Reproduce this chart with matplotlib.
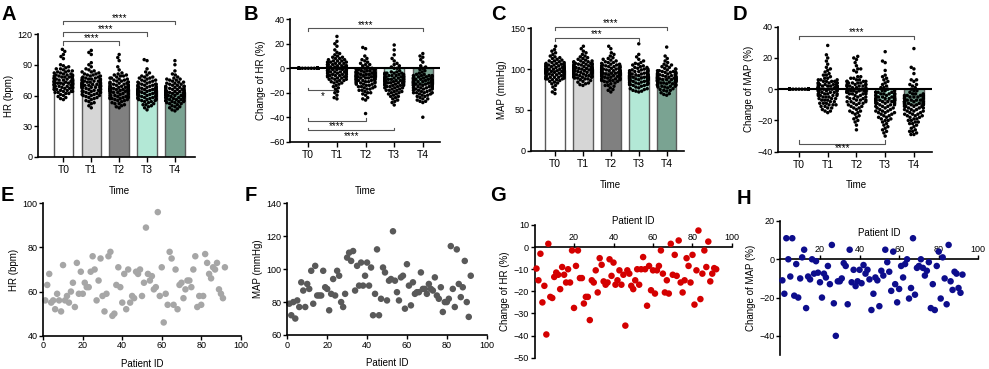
import warnings
import numpy as np
import matplotlib
matplotlib.use("Agg")
import matplotlib.pyplot as plt
import matplotlib.transforms as mtransforms
import seaborn as sns

warnings.filterwarnings("ignore")
plt.rcParams['font.family'] = ['Liberation Sans', 'DejaVu Sans']
plt.rcParams['font.size'] = 7

times = ["T0", "T1", "T2", "T3", "T4"]
bar_colors = ["#ffffff", "#d6d6d6", "#808080", "#b3e8d6", "#7aa392"]

# ---- swarm data (estimated per time point) ----
hr_t0 = [72, 68, 85, 76, 64, 105, 70, 74, 81, 62, 77, 69, 88, 73, 66, 79, 58, 71, 83, 75, 67, 90, 73,
         61, 78, 70, 86, 74, 65, 103, 72, 80, 68, 76, 57, 84, 71, 63, 79, 74, 69, 87, 72, 66, 82, 75,
         60, 77, 70, 98, 73, 64, 81, 68, 75, 71, 89, 62, 78, 73, 67, 84, 56, 76, 70, 80, 65, 74, 100,
         69, 83, 72, 63, 78, 71, 86, 67, 74, 79, 59, 73, 82, 68, 76, 64, 96, 71, 77, 66, 80, 72, 75]
hr_t1 = [70, 64, 82, 73, 58, 104, 68, 71, 78, 55, 74, 66, 85, 70, 61, 76, 52, 69, 80, 72, 63, 88, 70,
         57, 75, 67, 83, 71, 60, 102, 69, 77, 64, 73, 48, 81, 68, 59, 76, 71, 65, 84, 69, 62, 79, 72,
         56, 74, 67, 92, 70, 60, 78, 64, 72, 68, 86, 50, 75, 70, 63, 81, 53, 73, 66, 77, 61, 71, 100,
         66, 80, 69, 58, 75, 68, 83, 63, 71, 76, 54, 70, 79, 65, 73, 60, 90, 68, 74, 62, 77, 69, 72]
hr_t2 = [66, 60, 78, 69, 55, 100, 64, 67, 74, 52, 70, 62, 80, 66, 58, 72, 49, 65, 76, 68, 59, 82, 66,
         54, 71, 63, 79, 67, 57, 97, 65, 73, 60, 69, 48, 77, 64, 56, 72, 67, 61, 80, 65, 58, 75, 68,
         53, 70, 63, 94, 66, 57, 74, 60, 68, 64, 81, 50, 71, 66, 59, 77, 51, 69, 62, 73, 57, 67, 88,
         62, 76, 65, 55, 71, 64, 79, 59, 67, 72, 52, 66, 75, 61, 69, 56, 85, 64, 70, 58, 73, 65, 68]
hr_t3 = [64, 59, 76, 67, 54, 95, 62, 65, 72, 51, 68, 60, 78, 64, 57, 70, 48, 63, 74, 66, 58, 80, 64,
         53, 69, 61, 77, 65, 56, 94, 63, 71, 59, 67, 46, 75, 62, 55, 70, 65, 60, 78, 63, 57, 73, 66,
         52, 68, 61, 82, 64, 56, 72, 59, 66, 62, 79, 49, 69, 64, 58, 75, 50, 67, 61, 71, 56, 65, 86,
         60, 74, 63, 54, 69, 62, 77, 58, 65, 70, 51, 64, 73, 60, 67, 55, 83, 62, 68, 57, 71, 63, 66]
hr_t4 = [62, 57, 74, 65, 52, 94, 60, 63, 70, 49, 66, 58, 76, 62, 55, 68, 46, 61, 72, 64, 56, 78, 62,
         51, 67, 59, 75, 63, 54, 90, 61, 69, 57, 65, 45, 73, 60, 53, 68, 63, 58, 76, 61, 55, 71, 64,
         50, 66, 59, 80, 62, 54, 70, 57, 64, 60, 77, 47, 67, 62, 56, 73, 48, 65, 59, 69, 54, 63, 84,
         58, 72, 61, 52, 67, 60, 75, 56, 63, 68, 49, 62, 71, 58, 65, 53, 81, 60, 66, 55, 69, 61, 64]
hr_bars = [73, 70.4, 66.3, 64.9, 63.8]

dhr_t0 = [0] * 92
dhr_t1 = [-2, 5, -8, 1, -15, 26, -4, 3, -10, 8, -1, -6, 12, -3, 2, -12, 7, -5, 0, -20, 4, -7, 22,
          -9, 1, -3, 9, -14, 2, -6, 18, -2, -11, 6, -4, 0, -25, 3, -8, 10, -1, -17, 5, -5, 15, -3,
          4, -7, -1, 8, -13, 0, -22, 2, -4, 11, -9, -2, 6, -6, 1, -19, 3, -3, 7, -10, -1, 20, -5,
          2, -8, 5, -12, 0, -4, 9, -16, 1, -2, 4, -7, -24, 3, -5, 13, -1, -9, 6, -3, -11, 0, -6]
dhr_t2 = [-6, -2, -12, -5, -18, 17, -8, -3, -14, 2, -7, -10, 6, -4, -9, -16, 0, -11, -6, -22, -1, -13, 16,
          -15, -5, -8, 3, -20, -3, -11, 8, -7, -17, -2, -9, -6, -26, -4, -12, 4, -7, -19, -1, -10, -37, -5,
          -3, -13, -6, 1, -21, -8, -24, -4, -9, 5, -15, -7, -2, -11, -5, -18, -3, -8, 0, -14, -6, 10, -10,
          -4, -12, -1, -16, -7, -9, 3, -20, -5, -8, -2, -13, -25, -6, -10, 7, -4, -15, -1, -11, -17, -7, -9]
dhr_t3 = [-9, -5, -15, -8, -21, 19, -11, -6, -17, 1, -10, -13, 4, -7, -12, -19, -3, -14, -9, -25, -4, -16, 15,
          -18, -8, -11, 0, -23, -6, -14, 6, -10, -20, -5, -12, -9, -28, -7, -15, 2, -10, -22, -4, -13, -30, -8,
          -6, -16, -9, -2, -24, -11, -27, -7, -12, 3, -18, -10, -5, -14, -8, -21, -6, -11, -3, -17, -9, 8, -13,
          -7, -15, -4, -19, -10, -12, 0, -23, -8, -11, -5, -16, -26, -9, -13, 11, -7, -18, -4, -14, -20, -10, -12]
dhr_t4 = [-11, -7, -17, -10, -23, 12, -13, -8, -19, -1, -12, -15, 2, -9, -14, -21, -5, -16, -11, -27, -6, -18, 10,
          -20, -10, -13, -3, -25, -8, -16, 5, -12, -22, -7, -14, -11, -28, -9, -17, 0, -12, -24, -6, -15, -40, -10,
          -8, -18, -11, -4, -26, -13, -20, -9, -14, 1, -20, -12, -7, -16, -10, -23, -8, -13, -5, -19, -11, 7, -15,
          -9, -17, -6, -21, -12, -14, -2, -25, -10, -13, -7, -18, -27, -11, -15, 9, -9, -20, -6, -16, -22, -12, -14]
dhr_bars = [0, -1, -7.5, -10.5, -13]

map_t0 = [98, 92, 110, 101, 86, 128, 95, 99, 106, 83, 102, 94, 114, 97, 89, 104, 72, 96, 108, 100, 90, 118, 98,
          84, 103, 93, 112, 99, 88, 124, 96, 105, 91, 101, 70, 109, 95, 87, 104, 99, 93, 113, 97, 89, 107, 100,
          82, 102, 94, 120, 98, 87, 106, 92, 100, 96, 115, 78, 103, 98, 90, 110, 75, 101, 95, 105, 88, 99, 122,
          93, 108, 97, 85, 103, 96, 111, 91, 99, 104, 80, 98, 107, 94, 101, 88, 116, 96, 102, 90, 106, 97, 100]
map_t1 = [99, 94, 110, 102, 88, 128, 96, 100, 106, 86, 103, 95, 114, 98, 91, 105, 82, 97, 108, 101, 92, 118, 99,
          87, 104, 94, 112, 100, 90, 125, 97, 106, 93, 102, 80, 109, 96, 89, 105, 100, 94, 113, 98, 91, 107, 101,
          85, 103, 95, 120, 99, 89, 107, 93, 101, 97, 115, 83, 104, 99, 92, 110, 81, 102, 96, 106, 90, 100, 122,
          94, 109, 98, 88, 104, 97, 111, 92, 100, 105, 84, 99, 108, 95, 102, 90, 116, 97, 103, 91, 107, 98, 101]
map_t2 = [96, 90, 108, 99, 84, 128, 93, 97, 104, 80, 100, 92, 112, 95, 87, 102, 72, 94, 106, 98, 88, 116, 96,
          82, 101, 91, 110, 97, 86, 125, 94, 103, 89, 99, 75, 107, 93, 85, 102, 97, 91, 111, 95, 87, 105, 98,
          80, 100, 92, 118, 96, 85, 104, 90, 98, 94, 113, 77, 101, 96, 88, 108, 74, 99, 93, 103, 86, 97, 120,
          91, 106, 95, 83, 101, 94, 109, 89, 97, 102, 79, 96, 105, 92, 99, 86, 114, 94, 100, 88, 104, 95, 98]
map_t3 = [90, 85, 102, 93, 79, 131, 88, 91, 98, 76, 94, 87, 106, 89, 82, 96, 72, 88, 100, 92, 83, 110, 90,
          77, 95, 86, 104, 91, 81, 118, 89, 97, 84, 93, 73, 101, 88, 80, 96, 91, 86, 105, 89, 82, 99, 92,
          75, 94, 87, 112, 90, 80, 98, 85, 92, 88, 107, 74, 95, 90, 83, 102, 73, 93, 87, 97, 81, 91, 115,
          86, 100, 89, 78, 95, 88, 103, 84, 91, 96, 76, 90, 99, 86, 93, 81, 108, 88, 94, 83, 98, 89, 92]
map_t4 = [88, 83, 100, 91, 77, 127, 86, 89, 96, 74, 92, 85, 104, 87, 80, 94, 70, 86, 98, 90, 81, 108, 88,
          75, 93, 84, 102, 89, 79, 116, 87, 95, 82, 91, 68, 99, 86, 78, 94, 89, 84, 103, 87, 80, 97, 90,
          73, 92, 85, 110, 88, 78, 96, 83, 90, 86, 105, 71, 93, 88, 81, 100, 69, 91, 85, 95, 79, 89, 113,
          84, 98, 87, 76, 93, 86, 101, 82, 89, 94, 74, 88, 97, 84, 91, 79, 106, 86, 92, 81, 96, 87, 90]
map_bars = [98.9, 100, 96.9, 91.5, 88.7]

dmap_t0 = [0] * 92
dmap_t1 = [1, 5, -4, 2, -10, 28, -2, 4, -7, 9, 0, -3, 13, -1, 3, -9, 7, -5, 1, -15, 4, -6, 22,
           -8, 2, -1, 10, -12, 3, -4, 18, 0, -9, 6, -2, 1, -14, 4, -6, 11, 0, -11, 5, -3, 16, -1,
           5, -5, 1, 8, -10, 2, -13, 3, -2, 12, -7, 0, 6, -4, 2, -12, 4, -1, 7, -8, 1, 20, -3,
           3, -6, 5, -9, 1, -2, 9, -11, 2, 0, 4, -5, -14, 3, -3, 14, 1, -7, 6, -1, -10, 2, -4]
dmap_t2 = [-1, 4, -7, 1, -14, 21, -3, 3, -10, 8, -2, -5, 13, -1, 2, -12, 6, -8, 0, -19, 3, -9, 19,
           -11, 0, -4, 7, -16, 2, -6, 17, -2, -13, 5, -3, 0, -26, 4, -9, 12, -1, -18, 5, -5, 15, -2,
           4, -8, -1, 6, -15, 0, -21, 2, -4, 11, -10, -2, 5, -7, 1, -17, 3, -3, 7, -12, -1, 20, -6,
           2, -9, 4, -14, 0, -5, 8, -20, 1, -2, 3, -8, -23, 2, -6, 13, -1, -11, 5, -3, -15, 0, -7]
dmap_t3 = [-7, -2, -13, -5, -20, 24, -9, -3, -16, 4, -8, -11, 7, -6, -4, -18, 1, -14, -7, -25, -1, -15, 18,
           -17, -6, -10, 2, -22, -4, -12, 12, -8, -19, -1, -9, -5, -30, -3, -15, 6, -7, -24, -2, -11, 17, -8,
           -3, -14, -7, 0, -21, -6, -27, -4, -10, 5, -16, -8, -2, -13, -5, -23, -3, -9, 1, -18, -7, 9, -12,
           -4, -15, -2, -20, -6, -11, 3, -26, -5, -8, -3, -14, -28, -6, -12, 8, -7, -17, -1, -10, -19, -6, -9]
dmap_t4 = [-9, -4, -15, -7, -22, 26, -11, -5, -18, 2, -10, -13, 5, -8, -6, -20, -1, -16, -9, -27, -3, -17, 14,
           -19, -8, -12, 0, -24, -6, -14, 10, -10, -21, -3, -11, -7, -29, -5, -17, 3, -9, -26, -4, -13, 13, -10,
           -5, -16, -9, -2, -23, -8, -28, -6, -12, 3, -18, -10, -4, -15, -7, -25, -5, -11, -1, -20, -9, 6, -14,
           -6, -17, -4, -22, -8, -13, 1, -27, -7, -10, -5, -16, -29, -8, -14, 6, -9, -19, -3, -12, -21, -8, -11]
dmap_bars = [0, 1, -1, -7, -9.6]

# ---- per patient scatter data (E-H) ----
patient_id = list(range(1, 93))
hr_patient = [56, 63, 68, 55, 56, 52, 59, 56, 51, 72, 56, 58, 55, 60, 64, 53, 73, 59, 69, 59, 64, 62, 62,
              69, 76, 70, 56, 65, 75, 58, 51, 59, 76, 78, 49, 50, 63, 71, 62, 55, 68, 52, 70, 55, 58, 57,
              69, 68, 70, 58, 64, 89, 68, 65, 67, 61, 62, 96, 58, 71, 46, 59, 54, 78, 75, 54, 70, 52, 63,
              64, 57, 61, 65, 65, 62, 70, 76, 53, 58, 54, 58, 77, 73, 68, 66, 71, 70, 73, 61, 59, 57, 71]
map_patient = [79, 72, 80, 70, 81, 77, 92, 87, 77, 91, 88, 99, 79, 102, 84, 84, 84, 99, 89, 88, 75, 85, 94,
               84, 99, 96, 80, 77, 85, 107, 110, 105, 111, 87, 102, 90, 104, 90, 96, 104, 90, 101, 72, 85, 112, 72,
               82, 101, 98, 81, 93, 94, 123, 93, 86, 81, 95, 96, 76, 103, 90, 78, 92, 85, 86, 86, 98, 88, 88,
               85, 91, 88, 87, 95, 84, 82, 89, 74, 80, 80, 82, 114, 88, 77, 112, 91, 83, 89, 105, 80, 71, 96]
dhr_patient = [-9.7, -15, -3, -25, -17.5, -39.5, 1.5, -22.5, -23, -13.5, -11.5, -12.5, -19, -9, -12.5, -16, -10,
               -16, -1.5, -27.5, -8.5, -1.5, -14, -14, -25.5, -22.5, -22.5, -33, -15, -16, -10.5, -20.5, -5, -8,
               -15.5, -17, -16, -5.5, -13, -7, -17, -15, -10.5, -17, -12.5, -35.5, -10.5, -12, -17.5, -19, -15,
               -10, -17, -10, -4.5, -10, -26.5, -8.5, -19.5, -10.5, -21, -10.5, -8.5, -1.5, -12, -20.5, -15, -21,
               1.5, -12.5, -3.5, -13, 3, -16, -20.5, -15, -5, -8.5, -16, -3.5, -26, -10.5, 7.5, -23.5, -12, -1.5,
               -9, 2.5, -15.5, -12, -9.5, -10]
dmap_patient = [-11, -18, 11, 0, -9, 11, -19, -2.5, -20, -10, 1, 5, -25.5, -9, -10.5, 0, -7.5, -1, -7, -12, -20,
                -7.5, -9.5, -3.5, -13, 7.5, -23, -40, -11.5, -11.5, -10, -2, -3.5, -23.5, 5, -12, -5.5, -14,
                -11.5, -5.5, -12.5, -3, -7.5, -5.5, -10.5, -26.5, -18, -9.5, -11, -24.5, -6, -8.5, 5, -1.5, -6.5,
                -16.5, 4, -13, -22.5, -15.5, -3.5, -9.5, -2.5, 0, -20.5, -15, 11, -18.5, -4.5, -3.5, 0, -4.5,
                -8.5, -6, -1.5, -25.5, -13, -26.5, -3.5, 4, -20.5, 1, -10, -23.5, 7.5, -11.5, -16, -6.5, -7.5,
                -15, -17.5, -8]

W, H = 989, 369
fig = plt.figure(figsize=(W / 100, H / 100), dpi=100)

TICK = 6.5
LAB = 7
DOT = 2.5


def add_ax(x0, x1, ytop, ybot):
    return fig.add_axes([x0 / W, 1 - ybot / H, (x1 - x0) / W, (ybot - ytop) / H])


def style(ax):
    for s in ["top", "right"]:
        ax.spines[s].set_visible(False)
    for s in ["left", "bottom"]:
        ax.spines[s].set_linewidth(1.2)
    ax.tick_params(width=1, length=2.8, pad=1.2, labelsize=TICK)


def bracket(ax, x1, x2, y, tip, text, ty):
    ax.plot([x1, x1, x2, x2], [tip, y, y, tip], color="#555555", lw=0.8, clip_on=False)
    ax.text((x1 + x2) / 2, ty, text, ha="center", va="center", fontsize=7, clip_on=False)


def bar_swarm(ax, groups, bars, ylim, yticks, ylabel, xlim, time_y, zero_line=False):
    ax.bar(range(5), bars, width=0.7, color=bar_colors, edgecolor="#5a5a5a", linewidth=1, zorder=1)
    sns.swarmplot(data=groups, ax=ax, color="black", size=DOT, zorder=3)
    ax.set_xlim(*xlim)
    ax.set_ylim(*ylim)
    fig.canvas.draw()
    # seaborn lays the swarm out at draw time; take the positions and
    # redraw them a bit narrower so the swarm stays near the bar width
    for coll in list(ax.collections):
        off = np.array(coll.get_offsets())
        coll.remove()
        if len(off) == 0:
            continue
        c = np.round(np.median(off[:, 0]))
        ax.scatter(c + (off[:, 0] - c) * 0.82, off[:, 1], s=DOT ** 2, color="black",
                   edgecolors="none", zorder=3, clip_on=False)
    if zero_line:
        ax.axhline(0, color="black", lw=1.5, zorder=4)
    ax.set_yticks(yticks)
    ax.set_xticks(range(5))
    ax.set_xticklabels(times)
    ax.set_xlabel("")
    ax.set_ylabel(ylabel, fontsize=LAB, labelpad=2.5)
    style(ax)
    ax.tick_params(axis="x", labelsize=7.5, pad=2.5, length=3.5)
    tr = mtransforms.blended_transform_factory(ax.transData, fig.transFigure)
    ax.text(2, 1 - time_y / H, "Time", transform=tr, ha="center", va="center", fontsize=LAB)


# A
axA = add_ax(38.3, 195, 34, 157)
bar_swarm(axA, {"T0": hr_t0, "T1": hr_t1, "T2": hr_t2, "T3": hr_t3, "T4": hr_t4}, hr_bars,
          (0, 120), [0, 30, 60, 90, 120], "HR (bpm)", (-0.9, 4.72), 191)
bracket(axA, 0, 2, 113.2, 109.5, "****", 115.8)
bracket(axA, 0, 3, 121.6, 118, "****", 124.5)
bracket(axA, 0, 4, 133, 129.5, "****", 136)

# B
axB = add_ax(290, 440, 19.3, 141.7)
bar_swarm(axB, {"T0": dhr_t0, "T1": dhr_t1, "T2": dhr_t2, "T3": dhr_t3, "T4": dhr_t4}, dhr_bars,
          (-60, 40), [-60, -40, -20, 0, 20, 40], "Change of HR (%)", (-0.64, 4.6), 191, zero_line=True)
bracket(axB, 0, 4, 33, 30.5, "****", 35.5)
bracket(axB, 0, 1, -18, -16, "*", -23)
bracket(axB, 0, 2, -43, -40.5, "****", -47.5)
bracket(axB, 0, 3, -50.7, -48.5, "****", -55)

# C
axC = add_ax(530.7, 684, 28.3, 150.7)
bar_swarm(axC, {"T0": map_t0, "T1": map_t1, "T2": map_t2, "T3": map_t3, "T4": map_t4}, map_bars,
          (0, 150), [0, 50, 100, 150], "MAP (mmHg)", (-0.87, 4.62), 185)
bracket(axC, 0, 3, 138.5, 135, "***", 142.5)
bracket(axC, 0, 4, 152, 148.5, "****", 156)

# D
axD = add_ax(778.3, 932.3, 26.7, 151.7)
bar_swarm(axD, {"T0": dmap_t0, "T1": dmap_t1, "T2": dmap_t2, "T3": dmap_t3, "T4": dmap_t4}, dmap_bars,
          (-40, 40), [-40, -20, 0, 20, 40], "Change of MAP (%)", (-0.72, 4.64), 185, zero_line=True)
bracket(axD, 0, 4, 34.2, 32, "****", 36.5)
bracket(axD, 0, 3, -34.9, -32.7, "****", -38)

# E
axE = add_ax(43.3, 240.7, 203.3, 335.7)
axE.scatter(patient_id, hr_patient, s=22, color="#a6a6a6", edgecolors="none", clip_on=False)
axE.set_xlim(0, 100)
axE.set_ylim(40, 100)
axE.set_xticks([0, 20, 40, 60, 80, 100])
axE.set_yticks([40, 60, 80, 100])
axE.set_xlabel("Patient ID", fontsize=LAB, labelpad=6)
axE.set_ylabel("HR (bpm)", fontsize=LAB, labelpad=2.5)
style(axE)

# F
axF = add_ax(287.3, 486.7, 203.3, 335)
axF.scatter(patient_id, map_patient, s=22, color="#595959", edgecolors="none", clip_on=False)
axF.set_xlim(0, 100)
axF.set_ylim(60, 140)
axF.set_xticks([0, 20, 40, 60, 80, 100])
axF.set_yticks([60, 80, 100, 120, 140])
axF.set_xlabel("Patient ID", fontsize=LAB, labelpad=6)
axF.set_ylabel("MAP (mmHg)", fontsize=LAB, labelpad=2.5)
style(axF)


def top_axis_panel(ax, x, y, ylim, yticks, ylabel, color):
    ax.scatter(x, y, s=22, color=color, edgecolors="none", zorder=3, clip_on=False)
    ax.set_xlim(0, 100)
    ax.set_ylim(*ylim)
    ax.set_yticks(yticks)
    ax.spines["right"].set_visible(False)
    ax.spines["bottom"].set_visible(False)
    ax.spines["top"].set_position(("data", 0))
    ax.spines["top"].set_linewidth(1.2)
    ax.spines["left"].set_linewidth(1.2)
    ax.xaxis.set_ticks_position("top")
    ax.xaxis.set_label_position("top")
    ax.set_xticks([20, 40, 60, 80, 100])
    ax.tick_params(width=1, length=2.8, pad=1.2, labelsize=TICK)
    ax.set_xlabel("Patient ID", fontsize=LAB, labelpad=6)
    ax.set_ylabel(ylabel, fontsize=LAB, labelpad=2.5)


# G
axG = add_ax(534.5, 732, 225, 357.7)
top_axis_panel(axG, patient_id, dhr_patient, (-50, 10), [-50, -40, -30, -20, -10, 0, 10],
               "Change of HR (%)", "#d40000")

# H
axH = add_ax(780.4, 978.3, 221, 355)
top_axis_panel(axH, patient_id, dmap_patient, (-50, 20), [-40, -20, 0, 20],
               "Change of MAP (%)", "#0d0d8c")

# panel letters
for letter, px, py in [("A", 2, 5), ("B", 244, 5), ("C", 491, 5), ("D", 733, 5),
                       ("E", 1, 186), ("F", 245, 186), ("G", 490, 186), ("H", 737, 189)]:
    fig.text(px / W, 1 - py / H, letter, fontsize=14.5, fontweight="bold", va="top", ha="left")

fig.savefig("out.png", dpi=100)
